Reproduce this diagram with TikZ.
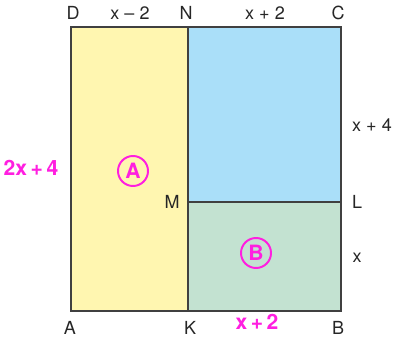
\documentclass[tikz,border=0pt]{standalone}
\usepackage{fontspec}
\setmainfont{TeX Gyre Heros}
\definecolor{partA}{HTML}{FFF6B0}
\definecolor{partNC}{HTML}{AADFF9}
\definecolor{partB}{HTML}{C3E2D1}
\definecolor{edge}{HTML}{404040}
\definecolor{pen}{HTML}{FF1FE0}
\begin{document}
\begin{tikzpicture}[x=0.025cm,y=0.025cm,
  lbl/.style={font=\fontsize{12.8}{14}\selectfont,text=black!85},
  hand/.style={pen,font=\fontsize{15}{17}\selectfont\bfseries},
  ring/.style={draw=pen,circle,line width=1.4pt,inner sep=1.5pt,minimum size=30*0.025cm}]
  % square ABCD split at N--K and M--L
  \useasboundingbox (0,0) rectangle (394,342);
  \coordinate (A) at (71,31);
  \coordinate (B) at (341,31);
  \coordinate (C) at (341,315);
  \coordinate (D) at (71,315);
  \coordinate (N) at (188,315);
  \coordinate (K) at (188,31);
  \coordinate (M) at (188,140);
  \coordinate (L) at (341,140);
  \fill[partA] (A) rectangle (N);
  \fill[partNC] (M) rectangle (C);
  \fill[partB] (K) rectangle (L);
  \draw[edge,line width=0.9pt] (A) rectangle (C);
  \draw[edge,line width=0.9pt] (N) -- (K);
  \draw[edge,line width=0.9pt] (M) -- (L);
  % point labels
  \node[lbl] (lD) at (73,329) {D};
  \node[lbl] (lN) at (186,329) {N};
  \node[lbl] (lC) at (338,329) {C};
  \node[lbl] (lA) at (70,14) {A};
  \node[lbl] (lK) at (190,14) {K};
  \node[lbl] (lB) at (338,14) {B};
  \node[lbl] (lM) at (172,140) {M};
  \node[lbl] (lL) at (357,140) {L};
  % lengths
  \node[lbl] (dn) at (130,329) {x – 2};
  \node[lbl] (nc) at (265,329) {x + 2};
  \node[lbl] (cl) at (372,217) {x + 4};
  \node[lbl] (lb) at (357,84) {x};
  \node[hand] (kb) at (257,20) {x\,+\,2};
  \node[hand] (ad) at (31,174) {2x\,+\,4};
  % handwritten marks
  \node[ring,hand] (rA) at (133,171) {A};
  \node[ring,hand] (rB) at (256,89) {B};
\end{tikzpicture}
\end{document}
